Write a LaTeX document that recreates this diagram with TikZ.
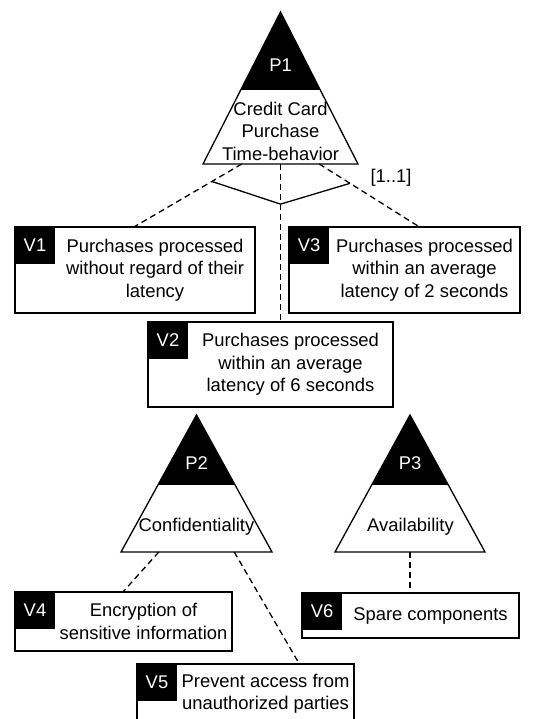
\documentclass[tikz,border=0pt]{standalone}
\usepackage{fontspec}
\setmainfont{Liberation Sans}
\usetikzlibrary{calc}
\begin{document}
\begin{tikzpicture}[x=1pt,y=-1pt,line width=1.3pt,
  every node/.style={font=\fontsize{18.4}{22.5}\selectfont,inner sep=0pt},
  vbox/.style={draw,minimum width=#1},
  vtag/.style={fill=black,text=white,minimum width=40,minimum height=37,anchor=north west},
  link/.style={dash pattern=on 6pt off 4pt}]
\useasboundingbox (0,0) rectangle (542,719);
\clip (0,0) rectangle (542,719);
\foreach \n/\x/\y/\w/\h in {p1/280.5/12/77.5/152, p2/196.5/415/75.5/137, p3/410/415/75/137}
{\coordinate (\n) at (\x,\y);
\coordinate (\n-bl) at (\x-\w,\y+\h);
\coordinate (\n-br) at (\x+\w,\y+\h);
\begin{scope}
\clip (\n) -- (\n-bl) -- (\n-br) -- cycle;
\fill (\x-\w,\y) rectangle (\x+\w,\y+0.51*\h);
\end{scope}
\draw (\n) -- (\n-bl) -- (\n-br) -- cycle;
\coordinate (\n-l) at ($(\n-bl)!0.25!(\n-br)$);
\coordinate (\n-m) at ($(\n-bl)!0.5!(\n-br)$);
\coordinate (\n-r) at ($(\n-bl)!0.75!(\n-br)$);}
\node[text=white] (p1-id) at (280.5,65) {P1};
\node[text=white] (p2-id) at (196.5,463) {P2};
\node[text=white] (p3-id) at (410,463) {P3};
\node[align=center] (p1-txt) at (280.5,131) {Credit Card\\Purchase\\Time-behavior};
\node (p2-txt) at (196.5,527) {Confidentiality};
\node (p3-txt) at (410.5,527) {Availability};
\foreach \n/\x/\y/\w/\h/\t/\s in {
  v1/135/270/240/86/V1/{Purchases processed\\without regard of their\\latency},
  v3/404.5/270/231/86/V3/{Purchases processed\\within an average\\latency of 2 seconds},
  v2/270.5/364.5/245/85/V2/{Purchases processed\\within an average\\latency of 6 seconds},
  v4/123.5/621.5/217/59/V4/{Encryption of\\sensitive information},
  v6/410.5/615.5/217/45/V6/{Spare components},
  v5/245.5/693.5/217/59/V5/{Prevent access from\\unauthorized parties}}
{\node[vbox=\w,minimum height=\h] (\n) at (\x,\y) {};
\node[vtag] (\n-id) at (\n.north west) {\t};
\node[align=center] (\n-txt) at ([xshift=20]\n.center) {\s};}
\coordinate (v2-top) at (p1-m |- v2.north);
\coordinate (v3-top) at ([xshift=14]v3.north);
\coordinate (v5-top) at ([xshift=53.5]v5.north);
\coordinate (v6-top) at (p3-m |- v6.north);
\draw[link] (p1-l) -- (v1.north);
\draw[link] (p1-m) -- (v2-top);
\draw[link] (p1-r) -- (v3-top);
\draw ($(p1-l)!0.28!(v1.north)$) -- ($(p1-m)!0.255!(v2-top)$) -- ($(p1-r)!0.31!(v3-top)$);
\node (p1-card) at (391,178) {[1..1]};
\draw[link] (p2-l) -- (v4.north);
\draw[link] (p2-r) -- (v5-top);
\draw[link] (p3-m) -- (v6-top);
\end{tikzpicture}
\end{document}
